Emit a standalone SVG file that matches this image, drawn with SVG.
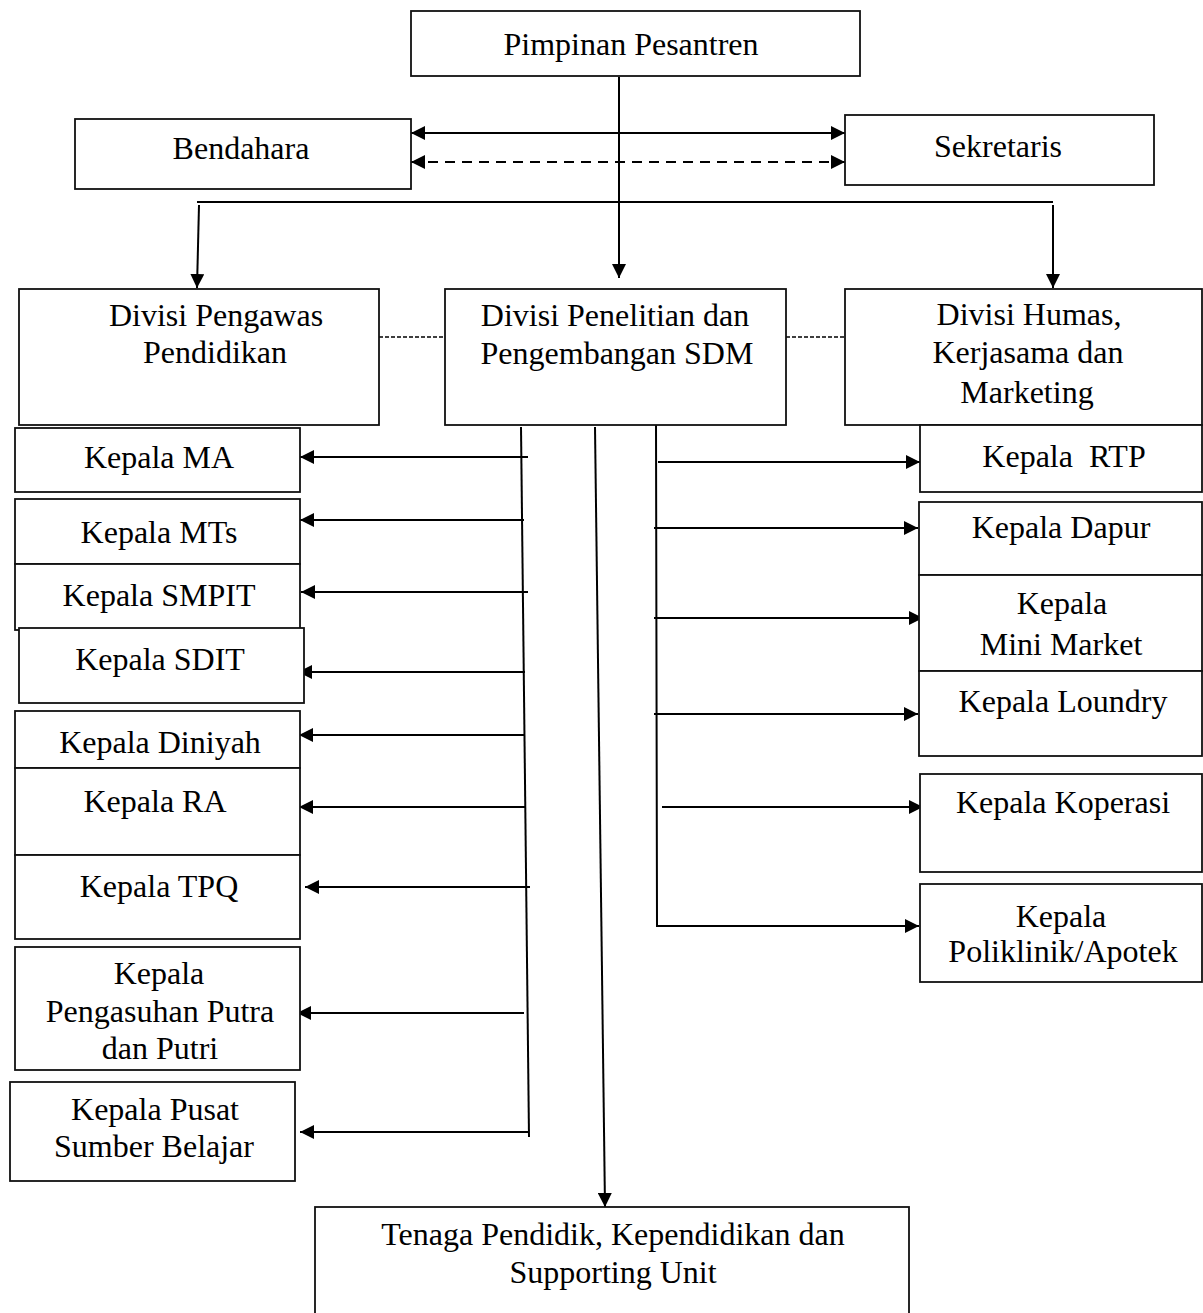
<svg xmlns="http://www.w3.org/2000/svg" width="1203" height="1313" viewBox="0 0 1203 1313">
<style>
.box{fill:#fff;stroke:#111;stroke-width:1.8}
.t{font-family:"Liberation Serif","Times New Roman",serif;font-size:32px;fill:#000;text-anchor:middle}
.c{fill:none;stroke:#000;stroke-width:2}
.arr{marker-end:url(#ah)}
.dash{stroke-dasharray:10 7}
.fine{stroke-width:1.5;stroke-dasharray:4 2}
</style>
<defs>
<marker id="ah" markerUnits="userSpaceOnUse" markerWidth="14" markerHeight="14" refX="14" refY="7" orient="auto-start-reverse">
<path d="M0,0 L14,7 L0,14 z" fill="#000"/>
</marker>
</defs>
<rect width="1203" height="1313" fill="#fff"/>

<g id="connectors">
<line class="c arr" x1="619" y1="77" x2="619" y2="278"/>
<line class="c" x1="411" y1="133" x2="845" y2="133" marker-start="url(#ah)" marker-end="url(#ah)"/>
<line class="c dash" x1="411" y1="162" x2="845" y2="162" marker-start="url(#ah)" marker-end="url(#ah)"/>
<line class="c" x1="197" y1="202" x2="1053" y2="202"/>
<line class="c arr" x1="199" y1="205" x2="197" y2="288"/>
<line class="c arr" x1="1053" y1="205" x2="1053" y2="288"/>
<line class="c fine" x1="379" y1="337" x2="445" y2="337"/>
<line class="c fine" x1="786" y1="337" x2="845" y2="337"/>
<line class="c" x1="521" y1="427" x2="529" y2="1137"/>
<line class="c arr" x1="528" y1="457" x2="300" y2="457"/>
<line class="c arr" x1="524" y1="520" x2="300" y2="520"/>
<line class="c arr" x1="528" y1="592" x2="301" y2="592"/>
<line class="c arr" x1="525" y1="672" x2="298" y2="672"/>
<line class="c arr" x1="525" y1="735" x2="299" y2="735"/>
<line class="c arr" x1="525" y1="807" x2="299" y2="807"/>
<line class="c arr" x1="530" y1="887" x2="305" y2="887"/>
<line class="c arr" x1="524" y1="1013" x2="297" y2="1013"/>
<line class="c arr" x1="529" y1="1132" x2="300" y2="1132"/>
<line class="c arr" x1="595" y1="427" x2="605" y2="1207"/>
<polyline class="c arr" points="656,421 657,926 919,926"/>
<line class="c arr" x1="658" y1="462" x2="920" y2="462"/>
<line class="c arr" x1="654" y1="528" x2="918" y2="528"/>
<line class="c arr" x1="654" y1="618" x2="923" y2="618"/>
<line class="c arr" x1="654" y1="714" x2="918" y2="714"/>
<line class="c arr" x1="662" y1="807" x2="923" y2="807"/>
</g>

<g id="pimpinan"><rect class="box" x="411" y="11" width="449" height="65"/><text class="t" x="631" y="55">Pimpinan Pesantren</text></g>
<g id="bendahara"><rect class="box" x="75" y="119" width="336" height="70"/><text class="t" x="241" y="159">Bendahara</text></g>
<g id="sekretaris"><rect class="box" x="845" y="115" width="309" height="70"/><text class="t" x="998" y="157">Sekretaris</text></g>

<g id="div-pengawas"><rect class="box" x="19" y="289" width="360" height="136"/><text class="t" x="216" y="326">Divisi Pengawas</text><text class="t" x="215" y="363">Pendidikan</text></g>
<g id="div-penelitian"><rect class="box" x="445" y="289" width="341" height="136"/><text class="t" x="615" y="326">Divisi Penelitian dan</text><text class="t" x="617" y="364">Pengembangan SDM</text></g>
<g id="div-humas"><rect class="box" x="845" y="289" width="357" height="136"/><text class="t" x="1029" y="325">Divisi Humas,</text><text class="t" x="1028" y="363">Kerjasama dan</text><text class="t" x="1027" y="403">Marketing</text></g>

<g id="kepala-ma"><rect class="box" x="15" y="428" width="285" height="64"/><text class="t" x="159" y="468">Kepala MA</text></g>
<g id="kepala-mts"><rect class="box" x="15" y="499" width="285" height="65"/><text class="t" x="159" y="543">Kepala MTs</text></g>
<g id="kepala-smpit"><rect class="box" x="15" y="564" width="285" height="66"/><text class="t" x="159" y="606">Kepala SMPIT</text></g>
<g id="kepala-sdit"><rect class="box" x="19" y="628" width="285" height="75"/><text class="t" x="160" y="670">Kepala SDIT</text></g>
<g id="kepala-diniyah"><rect class="box" x="15" y="711" width="285" height="57"/><text class="t" x="160" y="753">Kepala Diniyah</text></g>
<g id="kepala-ra"><rect class="box" x="15" y="768" width="285" height="87"/><text class="t" x="155" y="812">Kepala RA</text></g>
<g id="kepala-tpq"><rect class="box" x="15" y="855" width="285" height="84"/><text class="t" x="159" y="897">Kepala TPQ</text></g>
<g id="kepala-pengasuhan"><rect class="box" x="15" y="947" width="285" height="123"/><text class="t" x="159" y="984">Kepala</text><text class="t" x="160" y="1022">Pengasuhan Putra</text><text class="t" x="160" y="1059">dan Putri</text></g>
<g id="kepala-pusat"><rect class="box" x="10" y="1082" width="285" height="99"/><text class="t" x="155" y="1120">Kepala Pusat</text><text class="t" x="154" y="1157">Sumber Belajar</text></g>

<g id="kepala-rtp"><rect class="box" x="920" y="425" width="282" height="67"/><text class="t" x="1064" y="467" xml:space="preserve">Kepala  RTP</text></g>
<g id="kepala-dapur"><rect class="box" x="919" y="502" width="283" height="73"/><text class="t" x="1061" y="538">Kepala Dapur</text></g>
<g id="kepala-minimarket"><rect class="box" x="919" y="575" width="283" height="96"/><text class="t" x="1062" y="614">Kepala</text><text class="t" x="1061" y="655">Mini Market</text></g>
<g id="kepala-loundry"><rect class="box" x="919" y="671" width="283" height="85"/><text class="t" x="1063" y="712">Kepala Loundry</text></g>
<g id="kepala-koperasi"><rect class="box" x="920" y="774" width="282" height="98"/><text class="t" x="1063" y="813">Kepala Koperasi</text></g>
<g id="kepala-poliklinik"><rect class="box" x="920" y="884" width="282" height="98"/><text class="t" x="1061" y="927">Kepala</text><text class="t" x="1063" y="962">Poliklinik/Apotek</text></g>

<g id="tenaga"><rect class="box" x="315" y="1207" width="594" height="110"/><text class="t" x="613" y="1245">Tenaga Pendidik, Kependidikan dan</text><text class="t" x="613" y="1283">Supporting Unit</text></g>
</svg>
